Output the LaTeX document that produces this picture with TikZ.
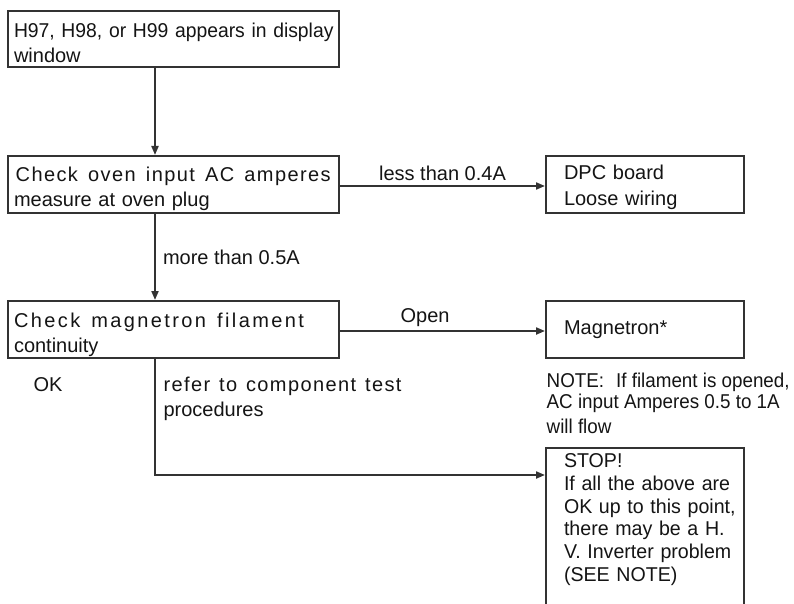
\documentclass[tikz,border=0pt]{standalone}
\usepackage{fontspec}
\setmainfont{Liberation Sans}
\newfontfamily\spacedfont[LetterSpace=7]{Liberation Sans}
\newfontfamily\widefont[LetterSpace=12]{Liberation Sans}
\newfontfamily\condfont[FakeStretch=0.967]{Liberation Sans}
\newfontfamily\stopfont[FakeStretch=0.98]{Liberation Sans}
\newfontfamily\narrowfont[FakeStretch=0.94]{Liberation Sans}
\newcommand\spreadline[3]{\leavevmode\hbox to #1{#2#3}}
\usetikzlibrary{arrows.meta}
\definecolor{ink}{HTML}{333333}
\definecolor{txt}{HTML}{141414}
\begin{document}
\begin{tikzpicture}[x=1pt,y=-1pt,
  lbl/.style={font=\fontsize{20}{25}\selectfont, text=txt, inner sep=0pt},
  box/.style={lbl, draw=ink, line width=2pt, rectangle, anchor=north west, align=left},
  lbox/.style={box, minimum width=331pt, text width=319pt, inner xsep=6pt, inner ysep=0pt},
  rbox/.style={box, minimum width=198pt, text width=162pt, inner xsep=18pt, inner ysep=0pt},
  arr/.style={draw=ink, line width=2pt, -{Triangle[length=9pt,width=7pt]}},
]
\useasboundingbox (0,0) rectangle (794,604);
\clip (0,0) rectangle (794,604);

% boxes
\node[lbox, text height=26.7pt, text depth=29.3pt] (b1) at (7,10)
  {\mbox{\condfont H97, H98, or H99 appears in display}\\window};
\node[lbox, text height=25.7pt, text depth=31.3pt] (b2) at (7,155)
  {\hspace*{1.7pt}\spreadline{315pt}{\spacedfont}{Check\hfill oven\hfill input\hfill AC\hfill amperes}\\measure at oven plug};
\node[lbox, text height=26.7pt, text depth=30.3pt] (b3) at (7,300)
  {\spreadline{290pt}{\widefont}{Check\hfill magnetron\hfill filament}\\continuity};
\node[rbox, minimum height=57pt, text height=23.3pt, text depth=33.7pt] (dpc) at (545,155)
  {DPC board\\[1.7pt]Loose wiring};
\node[rbox, minimum height=57pt] (mag) at (545,300) {Magnetron*};
\node[rbox, font=\stopfont\fontsize{20}{22.7}\selectfont, text height=19.7pt, text depth=175pt] (stop) at (545,447)
  {\mbox{STOP!}\\\mbox{If all the above are}\\\mbox{OK up to this point,}\\\mbox{there may be a H.}\\\mbox{V. Inverter problem}\\\mbox{(SEE NOTE)}};

% note
\node[lbl, anchor=north west, align=left, font=\narrowfont\fontsize{20}{21.7}\selectfont] (note)
  at ([xshift=1.5pt,yshift=-13.4pt]mag.south west)
  {NOTE:\hspace{12pt}If filament is opened,\\AC input Amperes 0.5 to 1A\\[3.3pt]will flow};

% connectors
\coordinate (spine) at (155,0);
\draw[arr] (b1.south -| spine) -- (b2.north -| spine);
\draw[arr] ([yshift=-1.5pt]b2.east) -- node[lbl, above, inner sep=4.5pt] (less) {less than 0.4A} ([yshift=-1.5pt]dpc.west);
\draw[arr] (b2.south -| spine) -- node[lbl, right, inner sep=7pt] (more) {more than 0.5A} (b3.north -| spine);
\draw[arr] ([yshift=-1.5pt]b3.east) -- node[lbl, above, inner sep=3.8pt, pos=0.415] (open) {Open} ([yshift=-1.5pt]mag.west);
\draw[arr] (b3.south -| spine) |- ([yshift=-28pt]stop.north west);

% labels under b3
\node[lbl, anchor=base west] (ok) at (33.3,391.7) {OK};
\node[lbl, anchor=north west, align=left] (refer) at (163.3,377.1)
  {\spreadline{238pt}{\spacedfont}{refer\hfill to\hfill component\hfill test}\\procedures};
\end{tikzpicture}
\end{document}
